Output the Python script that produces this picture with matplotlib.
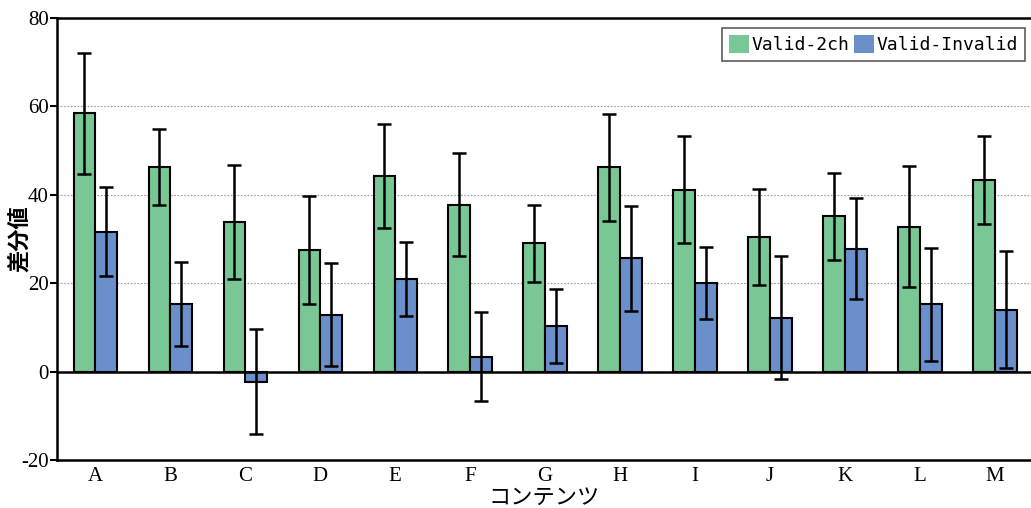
import numpy as np
import matplotlib
matplotlib.use("Agg")
import matplotlib.pyplot as plt

plt.rcParams["axes.unicode_minus"] = False

# データ
categories = ["A", "B", "C", "D", "E", "F", "G", "H", "I", "J", "K", "L", "M"]
valid_2ch = [58.4, 46.2, 33.9, 27.6, 44.3, 37.8, 29.0, 46.2, 41.2, 30.5, 35.1, 32.8, 43.4]
valid_2ch_err = [13.8, 8.6, 12.9, 12.2, 11.7, 11.7, 8.7, 12.1, 12.0, 10.8, 9.8, 13.7, 9.9]
valid_invalid = [31.7, 15.2, -2.3, 12.9, 21.0, 3.4, 10.4, 25.6, 20.1, 12.2, 27.8, 15.2, 14.0]
valid_invalid_err = [10.0, 9.5, 11.9, 11.6, 8.4, 10.1, 8.4, 11.9, 8.2, 13.9, 11.4, 12.7, 13.2]

serif = ["Liberation Serif", "DejaVu Serif"]
jp = ["Noto Sans CJK JP", "DejaVu Sans"]

fig = plt.figure(figsize=(10.31, 5.08), dpi=100)
ax = fig.add_axes([0.0553, 0.0945, 1 - 0.0553, 0.870])

x = np.arange(len(categories))
w = 0.287
ekw = dict(ecolor="black", elinewidth=1.8, capsize=5, capthick=1.8)
ax.bar(x - w / 2, valid_2ch, w, color="#78c794", edgecolor="black", linewidth=1.5,
       yerr=valid_2ch_err, error_kw=ekw, label="Valid-2ch", zorder=3)
ax.bar(x + w / 2, valid_invalid, w, color="#6a8fcb", edgecolor="black", linewidth=1.5,
       yerr=valid_invalid_err, error_kw=ekw, label="Valid-Invalid", zorder=3)

ax.axhline(0, color="black", linewidth=1.8, zorder=4)
for g in [20, 40, 60]:
    ax.axhline(g, color="#999999", linewidth=0.8, linestyle=(0, (1.5, 1.5)), zorder=1)

ax.set_xlim(-0.507, 12.48)
ax.set_ylim(-20, 80)
ax.set_yticks([-20, 0, 20, 40, 60, 80])
ax.set_xticks(x)
ax.set_xticklabels(categories)
for lab in ax.get_xticklabels() + ax.get_yticklabels():
    lab.set_family(serif)
    lab.set_fontsize(15)
ax.tick_params(axis="x", length=0, pad=5)
ax.tick_params(axis="y", length=5, width=1.5, direction="out", pad=1)

for s in ["left", "top", "bottom"]:
    ax.spines[s].set_linewidth(1.8)
ax.spines["right"].set_visible(False)

ax.set_ylabel("差分値", family=jp, fontsize=16, fontweight="bold")
ax.yaxis.set_label_coords(-0.0265, 0.5)
ax.set_xlabel("コンテンツ", family=jp, fontsize=16, labelpad=0)

leg = ax.legend(ncol=2, loc="upper right", bbox_to_anchor=(1025 / 1031, 1 - 28 / 508),
                bbox_transform=fig.transFigure,
                prop=dict(family=["DejaVu Sans Mono"], size=13),
                frameon=True, fancybox=False, edgecolor="#333333",
                handlelength=1.1, handleheight=1.1, handletextpad=0.12,
                columnspacing=0.3, borderpad=0.4, borderaxespad=0)
leg.get_frame().set_linewidth(1.2)
for h in leg.legend_handles:
    h.set_edgecolor("none")

fig.savefig("out.png", dpi=100)
